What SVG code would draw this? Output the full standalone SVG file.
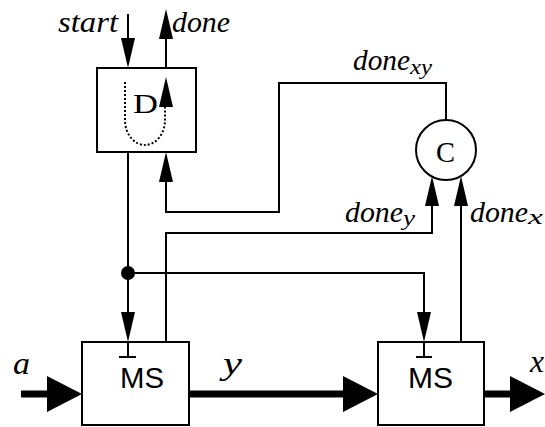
<svg xmlns="http://www.w3.org/2000/svg" width="545" height="427" viewBox="0 0 545 427">
<defs>
<style>
.ln{fill:none;stroke:#000;stroke-width:2}
.thick{fill:none;stroke:#000;stroke-width:7}
.box{fill:#fff;stroke:#000;stroke-width:2}
.it{font-family:"Liberation Serif","Times New Roman",serif;font-style:italic;fill:#000}
.rm{font-family:"Liberation Serif","Times New Roman",serif;fill:#000}
.ss{font-family:"Liberation Sans",Arial,sans-serif;fill:#000}
</style>
<marker id="ah" markerUnits="userSpaceOnUse" markerWidth="30" markerHeight="14" viewBox="0 0 30 14" refX="0" refY="7" orient="auto">
<path d="M0,0 L30,7 L0,14 z" fill="#000"/>
</marker>
<marker id="ahb" markerUnits="userSpaceOnUse" markerWidth="35" markerHeight="36" viewBox="0 0 35 36" refX="0" refY="18" orient="auto">
<path d="M0,0 L35,18 L0,36 z" fill="#000"/>
</marker>
</defs>
<rect width="545" height="427" fill="#fff"/>

<g id="connectors">
<path class="ln" d="M128,14 V38" marker-end="url(#ah)"/>
<path class="ln" d="M166,68 V39" marker-end="url(#ah)"/>
<path class="ln" d="M128,152 V312" marker-end="url(#ah)"/>
<path class="ln" d="M128,273 H424 V312" marker-end="url(#ah)"/>
<path class="ln" d="M166,342 V233 H432 V206" marker-end="url(#ah)"/>
<path class="ln" d="M461,342 V206" marker-end="url(#ah)"/>
<path class="ln" d="M446,120 V83 H279 V212 H166 V182" marker-end="url(#ah)"/>
<circle cx="128" cy="273" r="7" fill="#000"/>
<path class="thick" d="M21,394 H47" marker-end="url(#ahb)"/>
<path class="thick" d="M189,394 H343" marker-end="url(#ahb)"/>
<path class="thick" d="M484,394 H510" marker-end="url(#ahb)"/>
</g>

<g id="D">
<rect class="box" x="97" y="68" width="99" height="84"/>
<path d="M125,82 V120 A20,25 0 0 0 165,120 V107" fill="none" stroke="#000" stroke-width="2" stroke-dasharray="2,2"/>
<path d="M159,107 L166,77 L173,107 z" fill="#000"/>
<text class="rm" x="133" y="113" font-size="28" textLength="25" lengthAdjust="spacingAndGlyphs">D</text>
</g>

<g id="C">
<circle class="box" cx="446" cy="150" r="30"/>
<text class="rm" x="436" y="162" font-size="29" textLength="19" lengthAdjust="spacingAndGlyphs">C</text>
</g>

<g id="MS1">
<rect class="box" x="82" y="342" width="107" height="83"/>
<path class="ln" d="M128,342 V357 M119,357 H136"/>
<text class="ss" x="120" y="388" font-size="30" textLength="44" lengthAdjust="spacingAndGlyphs">MS</text>
</g>

<g id="MS2">
<rect class="box" x="378" y="342" width="106" height="83"/>
<path class="ln" d="M424,342 V357 M416,357 H432"/>
<text class="ss" x="408" y="388" font-size="30" textLength="45" lengthAdjust="spacingAndGlyphs">MS</text>
</g>

<g id="labels">
<text class="it" x="58" y="32" font-size="29" textLength="60" lengthAdjust="spacingAndGlyphs">start</text>
<text class="it" x="172" y="32" font-size="29" textLength="58" lengthAdjust="spacingAndGlyphs">done</text>
<text class="it" x="353" y="70" font-size="29" textLength="57" lengthAdjust="spacingAndGlyphs">done</text>
<text class="it" x="410" y="74" font-size="21" textLength="22" lengthAdjust="spacingAndGlyphs">xy</text>
<text class="it" x="345" y="222" font-size="29" textLength="58" lengthAdjust="spacingAndGlyphs">done</text>
<text class="it" x="403" y="225" font-size="21" textLength="12" lengthAdjust="spacingAndGlyphs">y</text>
<text class="it" x="470" y="222" font-size="29" textLength="58" lengthAdjust="spacingAndGlyphs">done</text>
<text class="it" x="528" y="224" font-size="21" textLength="15" lengthAdjust="spacingAndGlyphs">x</text>
<text class="it" x="13" y="374" font-size="31" textLength="17" lengthAdjust="spacingAndGlyphs">a</text>
<text class="it" x="223" y="374" font-size="31" textLength="19" lengthAdjust="spacingAndGlyphs">y</text>
<text class="it" x="530" y="372" font-size="31" textLength="14" lengthAdjust="spacingAndGlyphs">x</text>
</g>
</svg>
